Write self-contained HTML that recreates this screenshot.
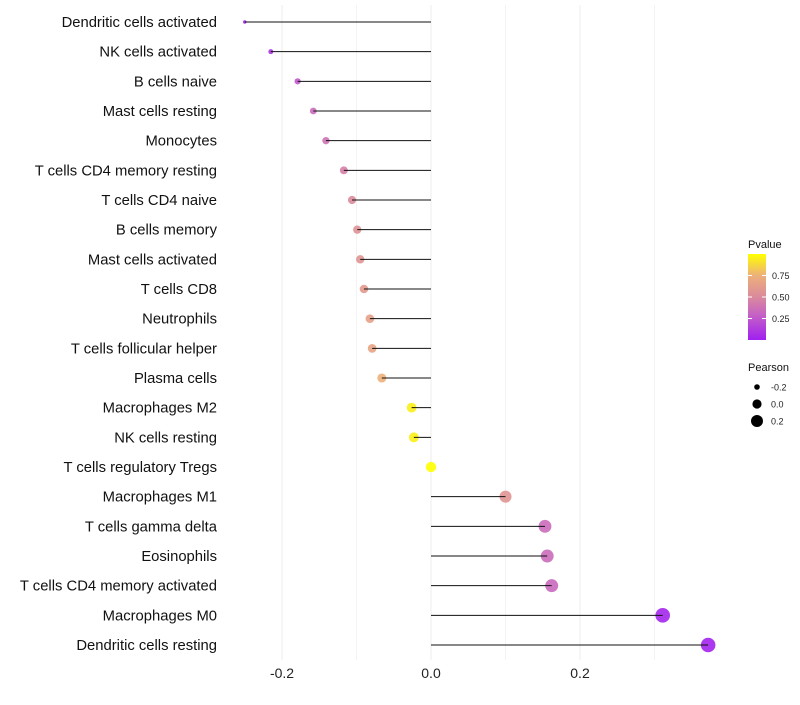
<!DOCTYPE html>
<html><head><meta charset="utf-8"><style>
body{margin:0;background:#fff;font-family:"Liberation Sans",sans-serif}
</style></head><body>
<svg id="c" width="800" height="700" xmlns="http://www.w3.org/2000/svg" font-family="Liberation Sans, sans-serif"></svg>
<script>
const categories=["Dendritic cells activated","NK cells activated","B cells naive","Mast cells resting","Monocytes","T cells CD4 memory resting","T cells CD4 naive","B cells memory","Mast cells activated","T cells CD8","Neutrophils","T cells follicular helper","Plasma cells","Macrophages M2","NK cells resting","T cells regulatory  Tregs","Macrophages M1","T cells gamma delta","Eosinophils","T cells CD4 memory activated","Macrophages M0","Dendritic cells resting"];
const pearson=[-0.25,-0.215,-0.179,-0.158,-0.141,-0.117,-0.106,-0.099,-0.095,-0.09,-0.082,-0.079,-0.066,-0.026,-0.023,0.0,0.1,0.153,0.156,0.162,0.311,0.372];
const pvalue=[0.02,0.1,0.25,0.35,0.38,0.45,0.5,0.55,0.57,0.6,0.65,0.67,0.75,0.95,0.95,1.0,0.57,0.35,0.35,0.33,0.03,0.02];
const xTicks=[-0.2,0.0,0.2];
const xTickLabels=["-0.2","0.0","0.2"];
const minorTicks=[-0.1,0.1,0.3];
const pTicks=[0.25,0.5,0.75];
const sizeTicks=[-0.2,0.0,0.2];
const svg=document.getElementById('c');
const NS="http://www.w3.org/2000/svg";
const X=v=>431+v*745;
const Y=i=>22+i*29.667;
const R=v=>Math.min(7.3,Math.sqrt(3+95*(v+0.25)));
const stops=[[0,'#A020F0'],[0.3,'#C663C4'],[0.5,'#DA8A9C'],[0.75,'#EDB07A'],[1,'#FFFF00']];
function mix(a,b,t){const p=s=>[1,3,5].map(k=>parseInt(s.substr(k,2),16));const A=p(a),B=p(b);return 'rgb('+A.map((x,i)=>Math.round(x+(B[i]-x)*t)).join(',')+')';}
function col(p){for(let i=1;i<stops.length;i++){if(p<=stops[i][0]){const a=stops[i-1],b=stops[i];return mix(a[1],b[1],(p-a[0])/(b[0]-a[0]));}}return stops[stops.length-1][1];}
function el(t,a,txt){const e=document.createElementNS(NS,t);for(const k in a)e.setAttribute(k,a[k]);if(txt!=null)e.textContent=txt;svg.appendChild(e);return e;}
minorTicks.forEach(v=>{const g=el('line',{x1:X(v),x2:X(v),y1:5,y2:660,stroke:'#f3f3f3','stroke-width':1});

});
xTicks.forEach((v,i)=>{const g=el('line',{x1:X(v),x2:X(v),y1:5,y2:660,stroke:'#ececec','stroke-width':1});


const t=el('text',{x:X(v),y:678,'text-anchor':'middle','font-size':14,fill:'#222'},xTickLabels[i]);

});
categories.forEach((c,i)=>{const y=Y(i);
const t=el('text',{x:217,y:y+5,'text-anchor':'end','font-size':14.8,fill:'#111'},c);


const p=el('circle',{cx:X(pearson[i]),cy:y,r:R(pearson[i]),fill:col(pvalue[i]),'fill-opacity':0.9});


const l=el('line',{x1:X(0),x2:X(pearson[i]),y1:y,y2:y,stroke:'#111','stroke-width':1});

});
const defs=el('defs',{});
defs.innerHTML='<linearGradient id="g" x1="0" y1="1" x2="0" y2="0">'+stops.map(s=>'<stop offset="'+s[0]+'" stop-color="'+s[1]+'"/>').join('')+'</linearGradient>';
const lt=el('text',{x:748,y:248,'font-size':11,fill:'#111'},'Pvalue');


const bar=el('rect',{x:748,y:254,width:18,height:86,fill:'url(#g)'});


const PY=p=>340-p*86;
pTicks.forEach(p=>{el('line',{x1:748,x2:752,y1:PY(p),y2:PY(p),stroke:'#fff'});el('line',{x1:762,x2:766,y1:PY(p),y2:PY(p),stroke:'#fff'});
const t=el('text',{x:772,y:PY(p)+3.5,'font-size':9,fill:'#222'},p.toFixed(2));

});
const st=el('text',{x:748,y:371,'font-size':11,fill:'#111'},'Pearson');


sizeTicks.forEach((v,i)=>{const y=387+i*17;
const c=el('circle',{cx:757,cy:y,r:[2.8,4.6,6][i],fill:'#000'});


const t=el('text',{x:771,y:y+3.5,'font-size':9,fill:'#222'},v.toFixed(1));

});
</script>
</body></html>
